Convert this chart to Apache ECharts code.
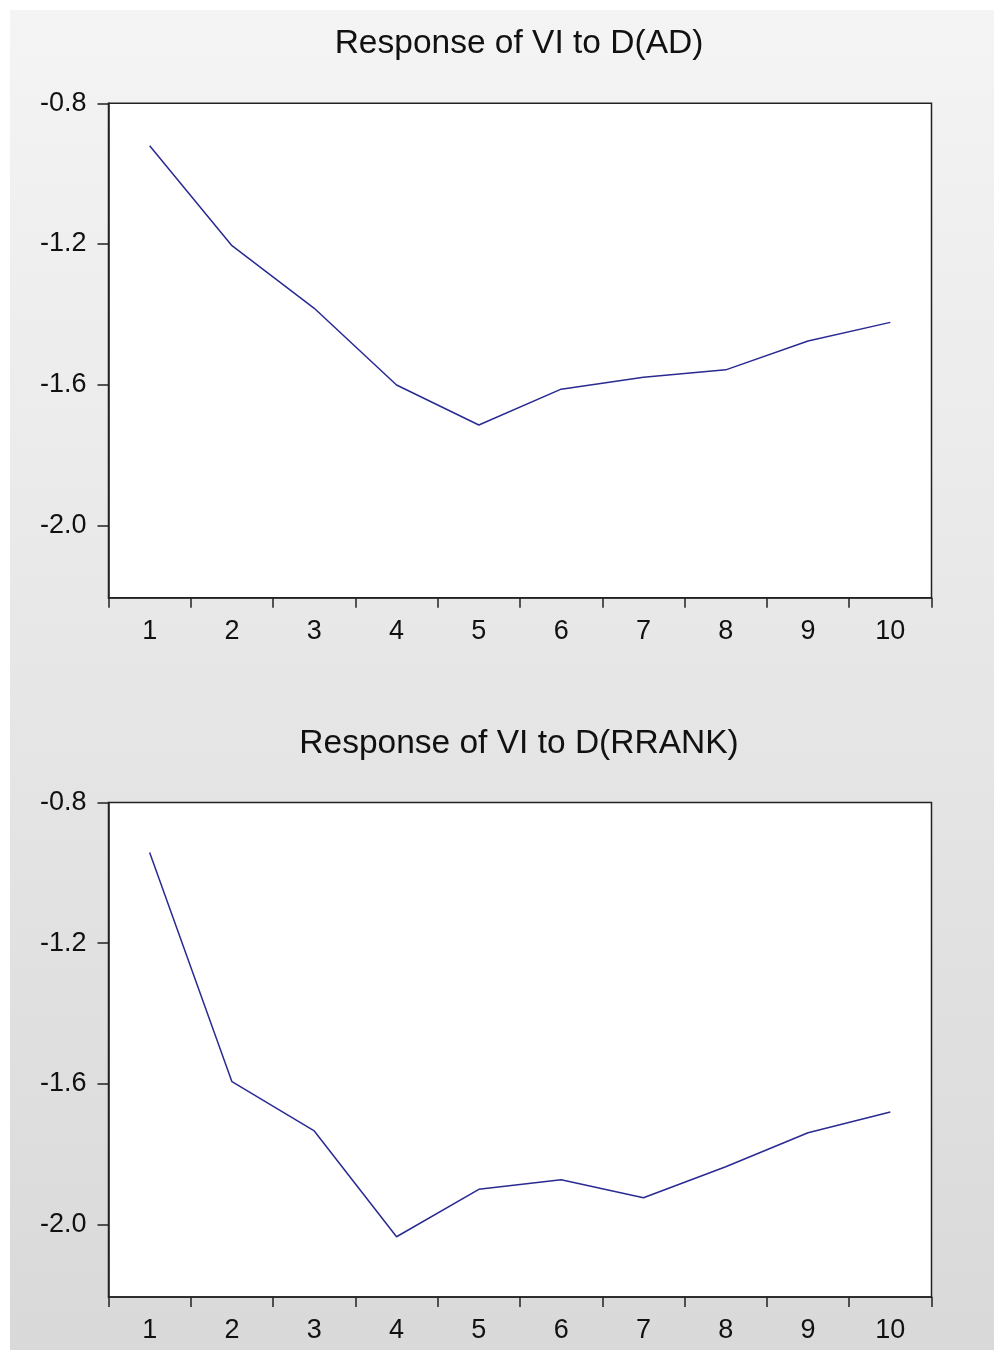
<!DOCTYPE html>
<html>
<head>
<meta charset="utf-8">
<style>
  html, body { margin: 0; padding: 0; background: #fff; }
  #chart { width: 994px; height: 1350px; }
</style>
<script src="https://cdn.jsdelivr.net/npm/echarts@6/dist/echarts.min.js"></script>
</head>
<body>
<div id="chart"></div>
<script>
// Impulse response periods
const periods = ['1', '2', '3', '4', '5', '6', '7', '8', '9', '10'];

// Response of VI to a shock in D(AD)
const responseAD = [-0.921, -1.205, -1.383, -1.601, -1.715, -1.613, -1.579, -1.558, -1.476, -1.423];

// Response of VI to a shock in D(RRANK)
const responseRRANK = [-0.942, -1.594, -1.734, -2.035, -1.900, -1.873, -1.924, -1.836, -1.739, -1.680];

// Vertical axis ticks shared by both panels
const yTicks = [-2.0, -1.6, -1.2, -0.8];
const yMin = -2.206;
const yMax = -0.8;

const panelTitles = ['Response of VI to D(AD)', 'Response of VI to D(RRANK)'];

const FONT = '"Liberation Sans", Arial, sans-serif';
const INK = '#111';
const LINE = '#2a2a92';

const chart = echarts.init(document.getElementById('chart'), null, { renderer: 'canvas' });

const grids = [
  { left: 108.5, top: 103.3, width: 823, height: 494.4 },
  { left: 108.5, top: 802.5, width: 823, height: 494.4 }
];

function xAxisFor(i) {
  return {
    type: 'category',
    gridIndex: i,
    data: periods,
    boundaryGap: true,
    axisLine: { show: true, lineStyle: { color: '#222', width: 1.5 } },
    axisTick: { show: true, interval: 0, length: 10, lineStyle: { color: '#222', width: 1.5 } },
    axisLabel: { interval: 0, margin: 20, color: INK, fontFamily: FONT, fontSize: 27 },
    splitLine: { show: false }
  };
}

function yAxisFor(i) {
  return {
    type: 'value',
    gridIndex: i,
    min: yMin,
    max: yMax,
    axisLine: { show: true, lineStyle: { color: '#222', width: 1.5 } },
    axisTick: { show: true, length: 11, customValues: yTicks, lineStyle: { color: '#222', width: 1.5 } },
    axisLabel: {
      customValues: yTicks,
      margin: 22,
      color: INK,
      fontFamily: FONT,
      fontSize: 27,
      formatter: v => v.toFixed(1)
    },
    splitLine: { show: false }
  };
}

const option = {
  backgroundColor: 'transparent',
  animation: false,
  graphic: [{
    type: 'rect',
    z: -10,
    silent: true,
    shape: { x: 10, y: 10, width: 984, height: 1340 },
    style: {
      fill: new echarts.graphic.LinearGradient(0, 0, 0, 1, [
        { offset: 0, color: '#f4f4f4' },
        { offset: 1, color: '#d9d9d9' }
      ])
    }
  }],
  title: panelTitles.map((t, i) => ({
    text: t,
    left: 514,
    top: i === 0 ? 22 : 722,
    textAlign: 'center',
    textStyle: { fontFamily: FONT, fontSize: 33.5, fontWeight: 'normal', color: INK }
  })),
  grid: grids.map(g => Object.assign({
    show: true,
    backgroundColor: '#fff',
    borderColor: '#222',
    borderWidth: 1.5
  }, g)),
  xAxis: [xAxisFor(0), xAxisFor(1)],
  yAxis: [yAxisFor(0), yAxisFor(1)],
  series: [
    {
      type: 'line', xAxisIndex: 0, yAxisIndex: 0,
      data: responseAD, showSymbol: false, symbol: 'none',
      lineStyle: { color: LINE, width: 1.5 }
    },
    {
      type: 'line', xAxisIndex: 1, yAxisIndex: 1,
      data: responseRRANK, showSymbol: false, symbol: 'none',
      lineStyle: { color: LINE, width: 1.5 }
    }
  ]
};

chart.setOption(option);
</script>
</body>
</html>
